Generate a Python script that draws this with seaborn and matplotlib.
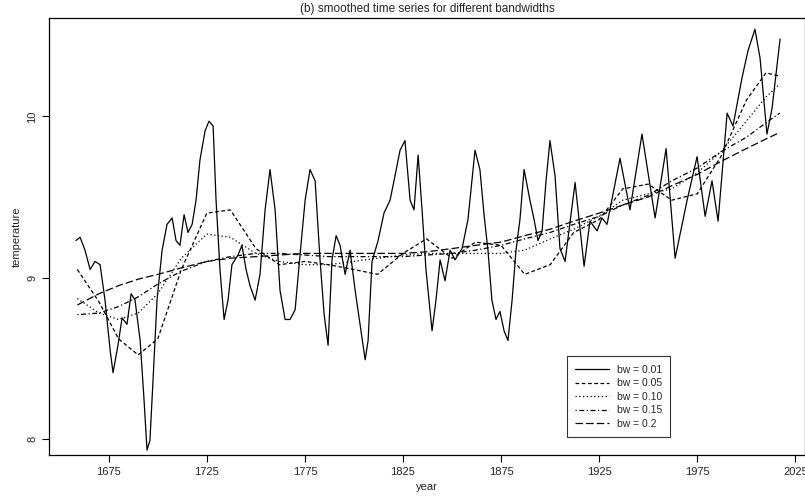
import matplotlib
matplotlib.use("Agg")
import matplotlib.pyplot as plt
import pandas as pd
import seaborn as sns

# raw-ish series (bw = 0.01)
yr_01 = [1658.3, 1660.4, 1662.9, 1665.5, 1668, 1670.6, 1673.1, 1675.7, 1677.2, 1679.7,
         1681.8, 1684.3, 1686.4, 1688.4, 1691, 1693, 1694.5, 1696, 1697.6, 1699.6,
         1702.2, 1704.7, 1707.3, 1709.3, 1711.3, 1713.4, 1715.4, 1717.5, 1719.5, 1721.5,
         1724.1, 1726.1, 1728.2, 1729.7, 1731.7, 1733.8, 1735.8, 1737.8, 1740.9, 1742.9,
         1745, 1747, 1749.6, 1752.1, 1754.7, 1757.2, 1759.8, 1762.3, 1764.9, 1767.4,
         1770, 1772.5, 1775.1, 1777.6, 1780.2, 1782.7, 1784.8, 1786.8, 1788.8, 1790.9,
         1792.9, 1795.5, 1798, 1800.6, 1803.1, 1805.7, 1807.2, 1809.2, 1812.3, 1815.3,
         1818.4, 1820.4, 1823.5, 1826, 1828.6, 1830.6, 1832.7, 1834.7, 1836.7, 1839.8,
         1841.8, 1843.9, 1846.4, 1849, 1851.5, 1855.1, 1858.1, 1861.7, 1864.2, 1866.3,
         1868.3, 1870.3, 1872.4, 1874.4, 1876.5, 1878.5, 1880.6, 1882.6, 1884.6, 1886.7,
         1889.7, 1891.8, 1893.8, 1895.9, 1897.9, 1899.9, 1902.5, 1905, 1907.6, 1912.7,
         1917.3, 1920.3, 1923.9, 1926.4, 1929, 1935.6, 1940.7, 1946.8, 1953.5, 1959.1,
         1963.7, 1969.8, 1974.9, 1979, 1982.5, 1985.6, 1990.2, 1993.2, 1997.8, 2000.9,
         2004.4, 2007, 2010.5, 2013.1, 2017.2]
temp_01 = [9.23, 9.25, 9.17, 9.05, 9.10, 9.08, 8.86, 8.55, 8.41, 8.58,
           8.75, 8.71, 8.90, 8.86, 8.61, 8.24, 7.93, 7.99, 8.37, 8.86,
           9.17, 9.33, 9.37, 9.23, 9.20, 9.39, 9.28, 9.33, 9.48, 9.73,
           9.91, 9.97, 9.94, 9.48, 9.05, 8.74, 8.86, 9.08, 9.14, 9.20,
           9.05, 8.95, 8.86, 9.02, 9.42, 9.67, 9.42, 8.92, 8.74, 8.74,
           8.80, 9.14, 9.48, 9.67, 9.60, 9.11, 8.77, 8.58, 9.11, 9.26,
           9.20, 9.02, 9.17, 8.92, 8.71, 8.49, 8.61, 9.10, 9.23, 9.40,
           9.48, 9.60, 9.79, 9.85, 9.48, 9.42, 9.76, 9.42, 9.05, 8.67,
           8.86, 9.11, 8.98, 9.17, 9.11, 9.18, 9.36, 9.79, 9.67, 9.39,
           9.17, 8.86, 8.74, 8.79, 8.67, 8.61, 8.86, 9.17, 9.36, 9.67,
           9.48, 9.36, 9.23, 9.29, 9.60, 9.85, 9.63, 9.18, 9.10, 9.59,
           9.07, 9.35, 9.29, 9.37, 9.33, 9.74, 9.42, 9.89, 9.37, 9.80,
           9.12, 9.48, 9.75, 9.38, 9.60, 9.35, 10.02, 9.94, 10.24, 10.41,
           10.54, 10.36, 9.89, 10.05, 10.48]

# smoother curves
yr_s = [1659, 1670, 1680, 1690, 1700, 1712, 1725, 1737, 1750, 1762, 1775, 1787, 1800,
        1812, 1825, 1837, 1850, 1862, 1875, 1887, 1900, 1912, 1925, 1937, 1950,
        1962, 1975, 1987, 2000, 2010, 2017]
temp_05 = [9.05, 8.85, 8.62, 8.52, 8.62, 9.05, 9.40, 9.42, 9.18, 9.08, 9.10, 9.08, 9.05,
           9.02, 9.15, 9.24, 9.12, 9.22, 9.20, 9.02, 9.08, 9.28, 9.36, 9.55, 9.58,
           9.48, 9.52, 9.75, 10.10, 10.27, 10.25]
temp_10 = [8.87, 8.78, 8.74, 8.78, 8.90, 9.12, 9.27, 9.25, 9.15, 9.10, 9.08, 9.08, 9.10,
           9.12, 9.14, 9.15, 9.15, 9.15, 9.15, 9.17, 9.24, 9.30, 9.38, 9.48, 9.52,
           9.55, 9.65, 9.78, 9.97, 10.12, 10.20]
temp_15 = [8.77, 8.78, 8.82, 8.88, 8.96, 9.04, 9.10, 9.13, 9.15, 9.15, 9.14, 9.13, 9.13,
           9.13, 9.13, 9.14, 9.15, 9.17, 9.20, 9.24, 9.28, 9.33, 9.38, 9.45, 9.51,
           9.60, 9.68, 9.78, 9.87, 9.96, 10.02]
temp_20 = [8.83, 8.90, 8.95, 8.99, 9.02, 9.06, 9.10, 9.12, 9.13, 9.14, 9.15, 9.15, 9.15,
           9.15, 9.15, 9.16, 9.18, 9.20, 9.22, 9.26, 9.30, 9.35, 9.40, 9.45, 9.50,
           9.57, 9.64, 9.72, 9.80, 9.86, 9.90]

labels = ["bw = 0.01", "bw = 0.05", "bw = 0.10", "bw = 0.15", "bw = 0.2"]
styles = ["-", (0, (3, 2)), (0, (1, 2)), (0, (1, 2, 4, 2)), (0, (6, 2.5))]

sns.set_style("ticks")
plt.rcParams["font.family"] = ["Liberation Sans", "DejaVu Sans"]

fig = plt.figure(figsize=(8.05, 5.01), dpi=100)
ax = fig.add_axes([0.061, 0.092, 0.939, 0.872])

series = [(yr_01, temp_01)] + [(yr_s, t) for t in (temp_05, temp_10, temp_15, temp_20)]
for (x, y), lab, ls in zip(series, labels, styles):
    df = pd.DataFrame({"year": x, "temperature": y})
    sns.lineplot(data=df, x="year", y="temperature", ax=ax, color="black",
                 linestyle=ls, linewidth=0.9, label=lab, sort=False)

ax.set_xlim(1644.6, 2029.9)
ax.set_ylim(7.90, 10.61)
ax.set_xticks([1675, 1725, 1775, 1825, 1875, 1925, 1975, 2025])
ax.set_yticks([8, 9, 10])
ax.set_yticklabels(["8", "9", "10"], rotation=90, va="center")
ax.tick_params(labelsize=8, length=5, width=0.8, color="black")
ax.set_xlabel("year", fontsize=8)
ax.set_ylabel("temperature", fontsize=8)
ax.set_title("(b) smoothed time series for different bandwidths", fontsize=8.5, pad=4)
for s in ax.spines.values():
    s.set_visible(True)
    s.set_color("black")
    s.set_linewidth(0.9)

leg = ax.legend(loc="lower left", bbox_to_anchor=(0.685, 0.04), fontsize=7.5,
                frameon=True, fancybox=False, edgecolor="black", handlelength=3.2,
                borderpad=0.8, labelspacing=0.35, borderaxespad=0)
leg.get_frame().set_linewidth(0.8)

fig.savefig("out.png", dpi=100)
